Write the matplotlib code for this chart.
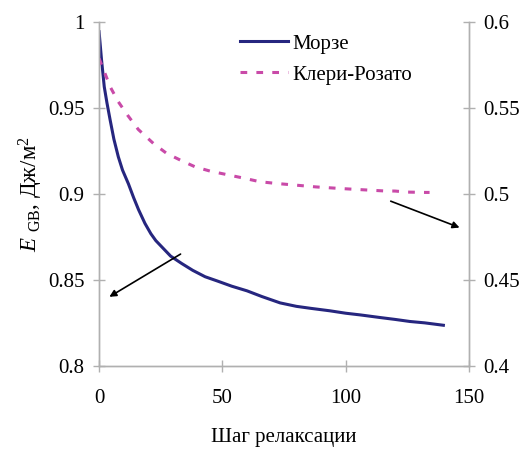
import matplotlib
matplotlib.use("Agg")
import matplotlib.pyplot as plt

plt.rcParams["font.family"] = ["Liberation Serif", "DejaVu Serif"]
plt.rcParams["mathtext.fontset"] = "custom"
plt.rcParams["mathtext.rm"] = "Liberation Serif"
plt.rcParams["mathtext.it"] = "Liberation Serif:italic"

# Морзе (левая ось)
morse_x = [0, 1, 2.1, 3.2, 4.5, 6, 7.8, 9.5, 11.9, 14, 16, 18.6, 21, 23, 25.4,
           29, 33.5, 38, 43, 48, 53.8, 60, 66, 73.4, 80, 86, 93.6, 100, 106,
           113.9, 120, 126, 132, 139.6]
morse_y = [0.9944, 0.978, 0.9624, 0.953, 0.943, 0.932, 0.9217, 0.914, 0.906,
           0.898, 0.891, 0.883, 0.877, 0.873, 0.8694, 0.864, 0.8597, 0.8557,
           0.852, 0.8495, 0.8465, 0.8438, 0.8405, 0.8368, 0.8348, 0.8336,
           0.8322, 0.8308, 0.8298, 0.8283, 0.8272, 0.826, 0.8252, 0.8238]

# Клери-Розато (правая ось)
kr_x = [0, 2.4, 4.5, 7.8, 11.5, 15.9, 22, 27.4, 33.5, 38.9, 45, 51, 58, 65.3,
        72, 80.1, 88, 97.7, 105, 115.2, 120, 125, 132.2, 134]
kr_y = [0.5789, 0.5702, 0.5624, 0.5537, 0.546, 0.5376, 0.5295, 0.5237, 0.5194,
        0.5159, 0.5134, 0.5116, 0.5095, 0.5072, 0.5062, 0.5052, 0.5042, 0.5033,
        0.5027, 0.5019, 0.5018, 0.5012, 0.501, 0.501]

fig = plt.figure(figsize=(5.27, 4.51), dpi=100)
ax = fig.add_axes([0.188, 0.188, 0.702, 0.763])
ax2 = ax.twinx()

l1, = ax.plot(morse_x, morse_y, color="#26267f", lw=2.2, label="Морзе")
l2, = ax2.plot(kr_x, kr_y, color="#c94aa8", lw=2.2, ls=(0, (2.2, 3.0)),
               label="Клери-Розато")

ax.set_xlim(0, 150)
ax.set_ylim(0.8, 1.0)
ax2.set_ylim(0.4, 0.6)
ax.set_xticks([0, 50, 100, 150])
ax.set_yticks([0.8, 0.85, 0.9, 0.95, 1.0])
ax.set_yticklabels(["0.8", "0.85", "0.9", "0.95", "1"])
ax2.set_yticks([0.4, 0.45, 0.5, 0.55, 0.6])
ax2.set_yticklabels(["0.4", "0.45", "0.5", "0.55", "0.6"])

for a in (ax, ax2):
    a.spines["top"].set_visible(False)
    for s in a.spines.values():
        s.set_color("#b0b0b0")
        s.set_linewidth(1.0)
    a.tick_params(direction="inout", length=9, width=1.0, color="#b0b0b0",
                  labelsize=15, pad=6)
ax.tick_params(axis="x", pad=12)

ax.set_xlabel("Шаг релаксации", fontsize=15, labelpad=14)
ax.set_ylabel(r"$E$ $_{\mathrm{GB}}$, Дж/м$^2$", fontsize=16.5, labelpad=2)

# стрелки к осям
ax.annotate("", xy=(3.2, 0.8395), xytext=(34, 0.866),
            arrowprops=dict(arrowstyle="-|>", color="black", lw=1.2,
                            mutation_scale=10))
ax2.annotate("", xy=(147.2, 0.480), xytext=(117.2, 0.4965),
             arrowprops=dict(arrowstyle="-|>", color="black", lw=1.2,
                             mutation_scale=10))

fig.legend(handles=[l1, l2], loc="upper left", bbox_to_anchor=(0.44, 0.943),
           frameon=False, fontsize=15, handlelength=2.3, handletextpad=0.2,
           labelspacing=0.55, borderaxespad=0)

fig.savefig("out.png", dpi=100)
